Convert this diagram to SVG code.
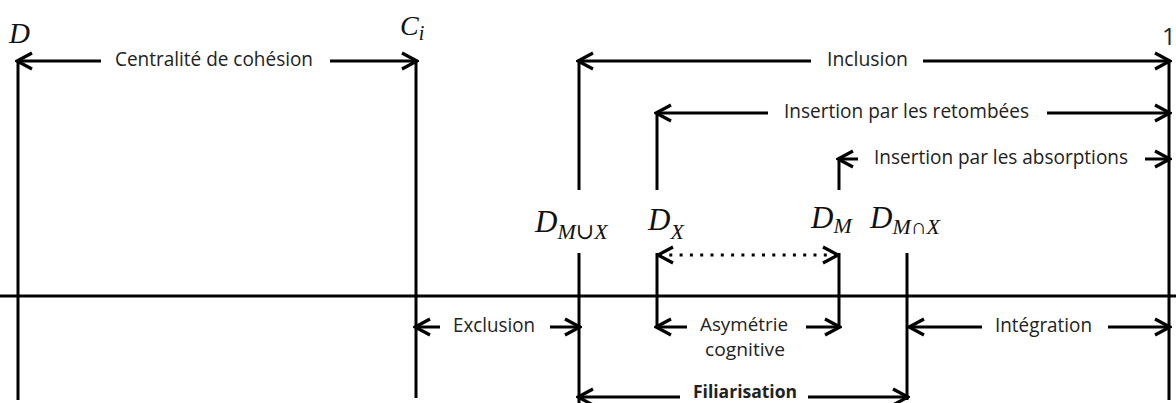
<svg xmlns="http://www.w3.org/2000/svg" width="1176" height="403" viewBox="0 0 1176 403">
<style>
.ln{stroke:#000;stroke-width:3;fill:none}
.ar{stroke:#000;stroke-width:3;fill:none}
.lbl{font-family:"Open Sans","Noto Sans",sans-serif;font-size:20px;fill:#222;text-anchor:middle}
.sm{font-size:19px}
.b{font-weight:bold;font-size:18px}
.m{font-family:"Liberation Serif","DejaVu Serif",serif;font-style:italic;fill:#111}
.dot{stroke:#000;stroke-width:3;fill:none;stroke-dasharray:3 7.3}
</style>
<defs>
<marker id="ah" viewBox="-2 -11 19 22" refX="14" refY="0" markerWidth="19" markerHeight="22" markerUnits="userSpaceOnUse" orient="auto-start-reverse">
<path d="M0,-8 L15,0 L0,8" fill="none" stroke="#000" stroke-width="3.2"/>
</marker>
</defs>
<rect width="1176" height="403" fill="#fff"/>

<g id="axis"><line class="ln" x1="0" y1="296" x2="1176" y2="296"/></g>

<g id="node-D">
<line class="ln" x1="18" y1="60" x2="18" y2="400"/>
<text class="m" x="9" y="43" font-size="29">D</text>
</g>
<g id="node-Ci">
<line class="ln" x1="416" y1="60" x2="416" y2="398"/>
<text class="m" x="400" y="35" font-size="28">C<tspan dy="5" font-size="20">i</tspan></text>
</g>
<g id="node-DMuX">
<line class="ln" x1="579" y1="60" x2="579" y2="190"/>
<line class="ln" x1="579" y1="253" x2="579" y2="403"/>
<text class="m" x="535" y="232" font-size="31">D<tspan dy="7" font-size="22">M∪X</tspan></text>
</g>
<g id="node-DX">
<line class="ln" x1="657" y1="112" x2="657" y2="190"/>
<line class="ln" x1="657" y1="253" x2="657" y2="327"/>
<text class="m" x="648" y="230" font-size="31">D<tspan dy="9" font-size="22">X</tspan></text>
</g>
<g id="node-DM">
<line class="ln" x1="839" y1="158" x2="839" y2="190"/>
<line class="ln" x1="839" y1="253" x2="839" y2="327"/>
<text class="m" x="811" y="228" font-size="31">D<tspan dy="5" font-size="22">M</tspan></text>
</g>
<g id="node-DMnX">
<line class="ln" x1="907" y1="253" x2="907" y2="400"/>
<text class="m" x="870" y="228" font-size="31">D<tspan dy="6" font-size="22">M∩X</tspan></text>
</g>
<g id="node-1">
<line class="ln" x1="1169" y1="60" x2="1169" y2="400"/>
<text x="1162" y="45" font-family="Open Sans, Noto Sans, sans-serif" font-size="24" fill="#222">1</text>
</g>

<g id="connectors">
<line class="ar" x1="18" y1="61" x2="101" y2="61" marker-start="url(#ah)"/>
<line class="ar" x1="330" y1="61" x2="416" y2="61" marker-end="url(#ah)"/>
<text class="lbl" x="214" y="66" textLength="198" lengthAdjust="spacingAndGlyphs">Centralité de cohésion</text>

<line class="ar" x1="579" y1="61" x2="811" y2="61" marker-start="url(#ah)"/>
<line class="ar" x1="923" y1="61" x2="1169" y2="61" marker-end="url(#ah)"/>
<text class="lbl" x="867.5" y="66" textLength="81" lengthAdjust="spacingAndGlyphs">Inclusion</text>

<line class="ar" x1="657" y1="113" x2="768" y2="113" marker-start="url(#ah)"/>
<line class="ar" x1="1047" y1="113" x2="1169" y2="113" marker-end="url(#ah)"/>
<text class="lbl" x="906.5" y="118" textLength="245" lengthAdjust="spacingAndGlyphs">Insertion par les retombées</text>

<line class="ar" x1="839" y1="159" x2="858" y2="159" marker-start="url(#ah)"/>
<line class="ar" x1="1145" y1="159" x2="1169" y2="159" marker-end="url(#ah)"/>
<text class="lbl" x="1001" y="164" textLength="254" lengthAdjust="spacingAndGlyphs">Insertion par les absorptions</text>

<line class="dot" x1="659" y1="255" x2="837" y2="255" marker-start="url(#ah)" marker-end="url(#ah)"/>

<line class="ar" x1="416" y1="327" x2="440" y2="327" marker-start="url(#ah)"/>
<line class="ar" x1="550" y1="327" x2="579" y2="327" marker-end="url(#ah)"/>
<text class="lbl" x="494" y="332" textLength="82" lengthAdjust="spacingAndGlyphs">Exclusion</text>

<line class="ar" x1="657" y1="327" x2="687" y2="327" marker-start="url(#ah)"/>
<line class="ar" x1="806" y1="327" x2="839" y2="327" marker-end="url(#ah)"/>
<text class="lbl sm" x="744" y="331" textLength="88" lengthAdjust="spacingAndGlyphs">Asymétrie</text>
<text class="lbl sm" x="745" y="356" textLength="80" lengthAdjust="spacingAndGlyphs">cognitive</text>

<line class="ar" x1="910" y1="327" x2="982" y2="327" marker-start="url(#ah)"/>
<line class="ar" x1="1108" y1="327" x2="1169" y2="327" marker-end="url(#ah)"/>
<text class="lbl" x="1043.5" y="332" textLength="97" lengthAdjust="spacingAndGlyphs">Intégration</text>

<line class="ar" x1="579" y1="397" x2="680" y2="397" marker-start="url(#ah)"/>
<line class="ar" x1="808" y1="397" x2="907" y2="397" marker-end="url(#ah)"/>
<text class="lbl b" x="745" y="398" textLength="104" lengthAdjust="spacingAndGlyphs">Filiarisation</text>
</g>
</svg>
